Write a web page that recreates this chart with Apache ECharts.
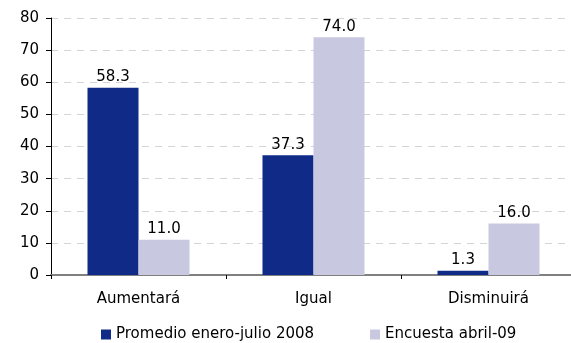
<!DOCTYPE html>
<html>
<head>
<meta charset="utf-8">
<script src="https://cdn.jsdelivr.net/npm/echarts@6/dist/echarts.min.js"></script>
<style>html,body{margin:0;padding:0;background:#fff;overflow:hidden;}#c{width:580px;height:343px;}</style>
</head>
<body>
<div id="c"></div>
<script>
const categories = ['Aumentará', 'Igual', 'Disminuirá'];
const seriesNames = ['Promedio enero-julio 2008', 'Encuesta abril-09'];
const promedio = [58.3, 37.3, 1.3];
const encuesta = [11.0, 74.0, 16.0];
const yTicks = [0, 10, 20, 30, 40, 50, 60, 70, 80];

const font = 'DejaVu Sans, Verdana, sans-serif';
const chart = echarts.init(document.getElementById('c'), null, {renderer: 'canvas'});
const labelStyle = {show: true, position: 'top', distance: 3, color: '#000', fontFamily: font, fontSize: 15,
  formatter: p => p.value.toFixed(1)};
chart.setOption({
  animation: false,
  grid: {left: 51, right: 4, top: 18, bottom: 68, containLabel: false},
  legend: {
    top: 322, left: 96, itemGap: 56, itemWidth: 10, itemHeight: 10, icon: 'rect',
    textStyle: {fontFamily: font, fontSize: 15, color: '#000'},
    data: seriesNames
  },
  xAxis: {
    type: 'category', data: categories,
    axisLine: {lineStyle: {color: '#808080', width: 2}},
    axisTick: {show: true, length: 4, lineStyle: {color: '#000'}},
    axisLabel: {color: '#000', fontFamily: font, fontSize: 15, margin: 17}
  },
  yAxis: {
    type: 'value', min: yTicks[0], max: yTicks[yTicks.length - 1], interval: 10,
    axisLine: {show: true, lineStyle: {color: '#000'}},
    axisTick: {show: true, length: 5, lineStyle: {color: '#000'}},
    axisLabel: {color: '#000', fontFamily: font, fontSize: 15, margin: 12},
    splitLine: {lineStyle: {color: '#d4d4d4', type: [7, 6]}}
  },
  series: [
    {name: seriesNames[0], type: 'bar', data: promedio, barWidth: 51, barGap: '0%',
     itemStyle: {color: '#0f2a87'}, label: labelStyle},
    {name: seriesNames[1], type: 'bar', data: encuesta, barWidth: 51,
     itemStyle: {color: '#c9c8e1'}, label: labelStyle}
  ]
});
</script>
</body>
</html>
